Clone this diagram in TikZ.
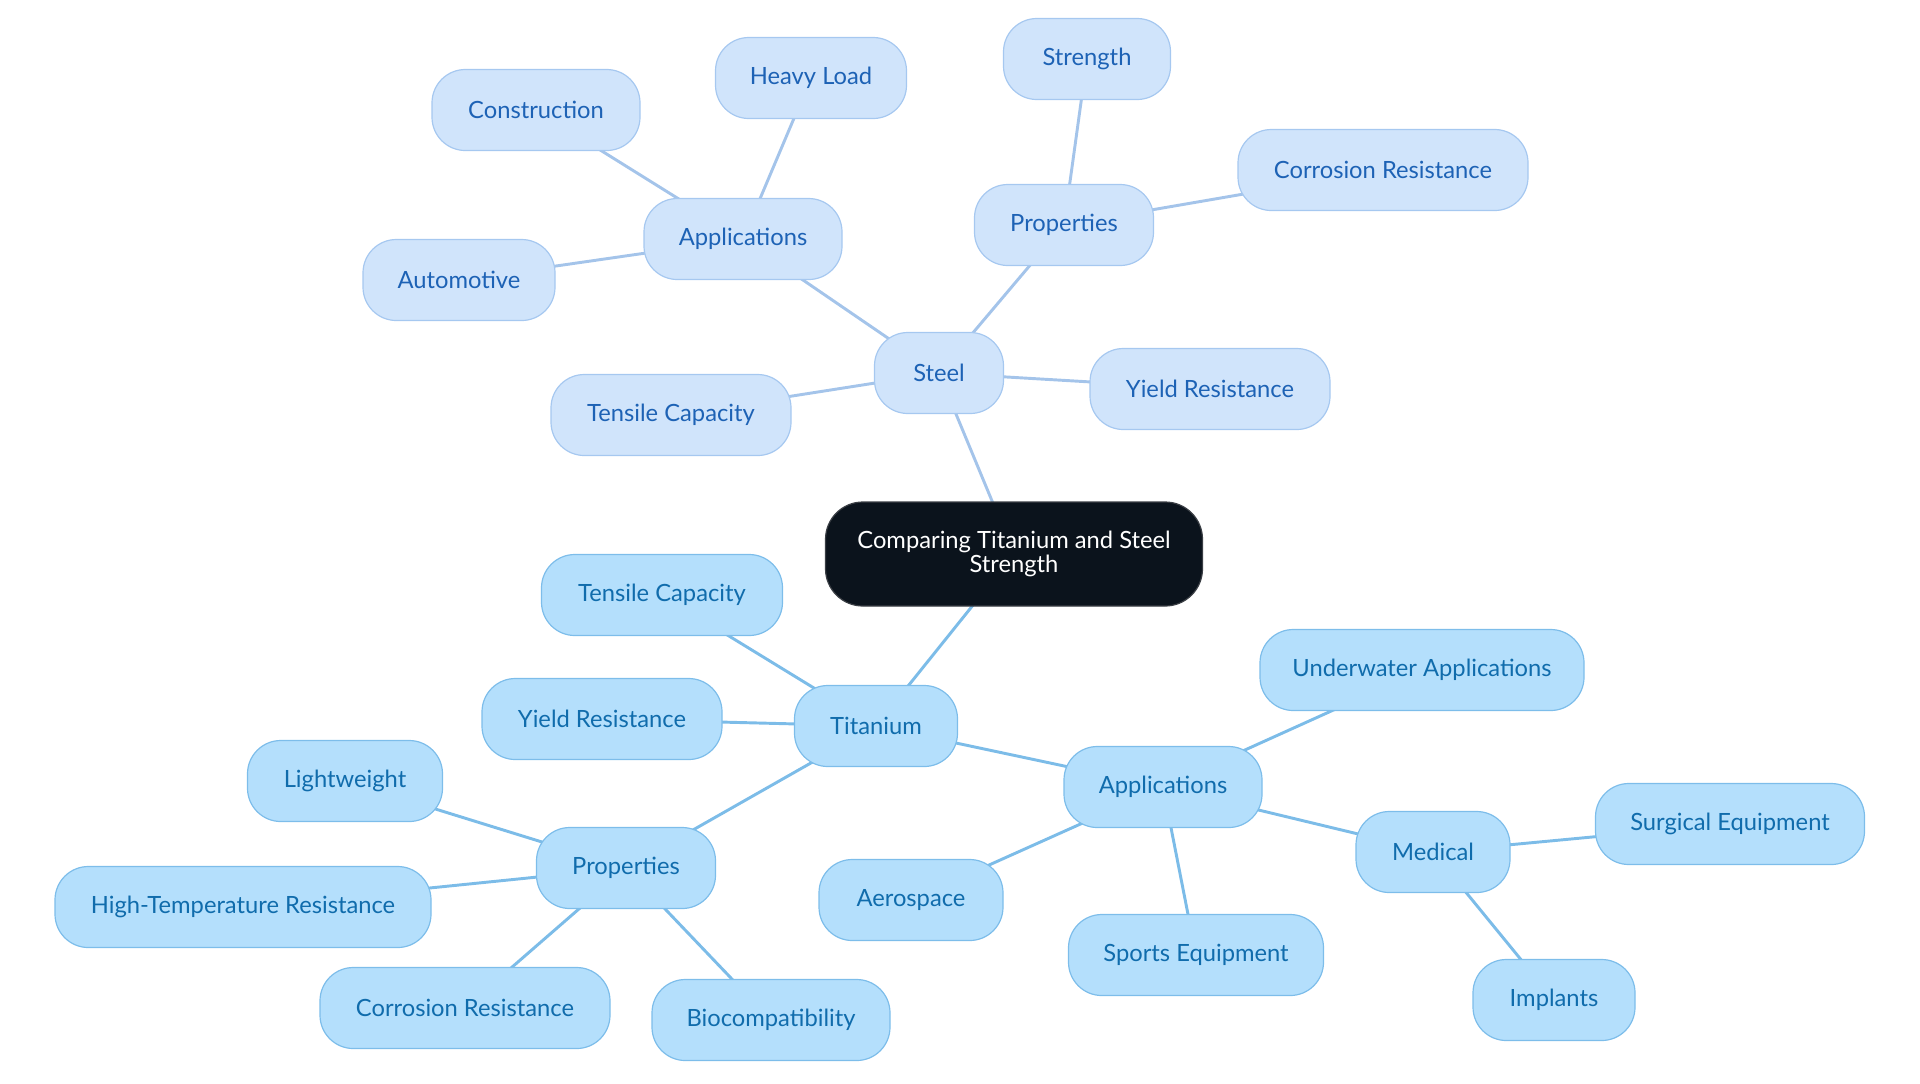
\documentclass[tikz,border=0pt]{standalone}
\usepackage{fontspec}
\setmainfont{Lato}
\usetikzlibrary{backgrounds}
\definecolor{sfill}{HTML}{D0E4FB}
\definecolor{sdraw}{HTML}{A6C8F0}
\definecolor{stext}{HTML}{1D62B5}
\definecolor{tfill}{HTML}{B4DFFC}
\definecolor{tdraw}{HTML}{7DBDEA}
\definecolor{ttext}{HTML}{106CAC}
\definecolor{sedge}{HTML}{A4C4EA}
\definecolor{tedge}{HTML}{7CBCE8}
\definecolor{rootfill}{HTML}{0B131C}
\tikzset{
  base/.style={rounded corners=25pt, minimum height=81*0.75pt, inner sep=0pt, line width=0.9pt,
    font=\fontsize{17.8}{19}\selectfont, align=center},
  sn/.style={base, fill=sfill, draw=sdraw, text=stext, minimum width=#1*0.75pt},
  tn/.style={base, fill=tfill, draw=tdraw, text=ttext, minimum width=#1*0.75pt},
  rootn/.style={base, fill=rootfill, draw=rootfill!60!gray, text=white, minimum width=377*0.75pt, minimum height=104*0.75pt, rounded corners=28pt, font=\fontsize{17.8}{18.5}\selectfont},
  se/.style={draw=sedge, line width=2.2pt},
  te/.style={draw=tedge, line width=2.2pt}
}
\begin{document}
\begin{tikzpicture}[x=0.75pt,y=-0.75pt]
\useasboundingbox (0,0) rectangle (1920,1083);
\node[rootn] (root) at (1014,554) {Comparing Titanium and Steel\\Strength};
% steel
\node[sn=129] (steel) at (939,373) {Steel};
\node[sn=198] (sapp) at (743,239) {Applications};
\node[sn=208] (constr) at (536,110) {Construction};
\node[sn=191] (heavy) at (811,78) {Heavy Load};
\node[sn=192] (auto) at (459,280) {Automotive};
\node[sn=179] (sprop) at (1064,225) {Properties};
\node[sn=167] (strength) at (1087,59) {Strength};
\node[sn=290] (scorr) at (1383,170) {Corrosion Resistance};
\node[sn=240] (syield) at (1210,389) {Yield Resistance};
\node[sn=240] (stens) at (671,415) {Tensile Capacity};
% titanium
\node[tn=163] (ti) at (876,726) {Titanium};
\node[tn=241] (ttens) at (662,595) {Tensile Capacity};
\node[tn=240] (tyield) at (602,719) {Yield Resistance};
\node[tn=179] (tprop) at (626,868) {Properties};
\node[tn=195] (light) at (345,781) {Lightweight};
\node[tn=376] (hightemp) at (243,907) {High-Temperature Resistance};
\node[tn=290] (tcorr) at (465,1008) {Corrosion Resistance};
\node[tn=238] (bio) at (771,1020) {Biocompatibility};
\node[tn=198] (tapp) at (1163,787) {Applications};
\node[tn=324] (under) at (1422,670) {Underwater Applications};
\node[tn=184] (aero) at (911,900) {Aerospace};
\node[tn=255] (sports) at (1196,955) {Sports Equipment};
\node[tn=154] (med) at (1433,852) {Medical};
\node[tn=269] (surg) at (1730,824) {Surgical Equipment};
\node[tn=162] (impl) at (1554,1000) {Implants};
\begin{scope}[on background layer]
\draw[se] (root.center) -- (steel.center);
\draw[se] (steel.center) -- (sapp.center);
\draw[se] (sapp.center) -- (constr.center);
\draw[se] (sapp.center) -- (heavy.center);
\draw[se] (sapp.center) -- (auto.center);
\draw[se] (steel.center) -- (sprop.center);
\draw[se] (sprop.center) -- (strength.center);
\draw[se] (sprop.center) -- (scorr.center);
\draw[se] (steel.center) -- (syield.center);
\draw[se] (steel.center) -- (stens.center);
\draw[te] (root.center) -- (ti.center);
\draw[te] (ti.center) -- (ttens.center);
\draw[te] (ti.center) -- (tyield.center);
\draw[te] (ti.center) -- (tprop.center);
\draw[te] (tprop.center) -- (light.center);
\draw[te] (tprop.center) -- (hightemp.center);
\draw[te] (tprop.center) -- (tcorr.center);
\draw[te] (tprop.center) -- (bio.center);
\draw[te] (ti.center) -- (tapp.center);
\draw[te] (tapp.center) -- (under.center);
\draw[te] (tapp.center) -- (aero.center);
\draw[te] (tapp.center) -- (sports.center);
\draw[te] (tapp.center) -- (med.center);
\draw[te] (med.center) -- (surg.center);
\draw[te] (med.center) -- (impl.center);
\end{scope}
\end{tikzpicture}
\end{document}
